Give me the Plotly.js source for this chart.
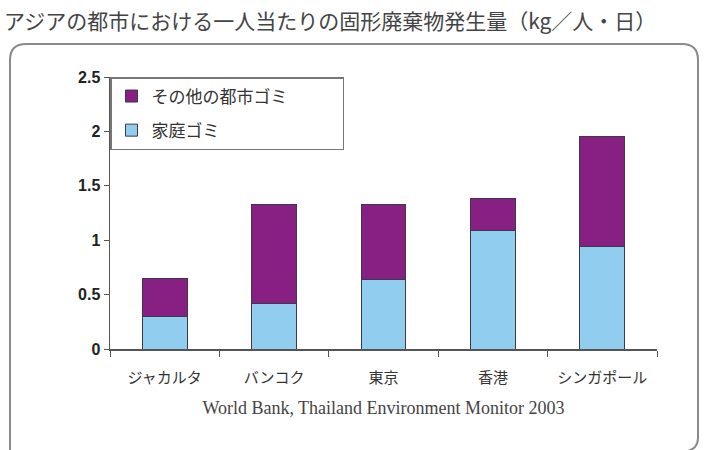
<!DOCTYPE html>
<html>
<head>
<meta charset="utf-8">
<script src="https://cdn.plot.ly/plotly-3.0.1.min.js"></script>
<style>html,body{margin:0;padding:0;background:#fff;}#chart{width:717px;height:450px;}</style>
</head>
<body>
<div id="chart"></div>
<script>
const cities = ["ジャカルタ", "バンコク", "東京", "香港", "シンガポール"];
const household = [0.30, 0.42, 0.64, 1.09, 0.94];
const otherUrban = [0.35, 0.91, 0.69, 0.29, 1.01];
const seriesNames = ["家庭ゴミ", "その他の都市ゴミ"];
const yTicks = [0, 0.5, 1, 1.5, 2, 2.5];
const yTickText = ["0", "0.5", "1", "1.5", "2", "2.5"];

// plot-area pixel geometry
const L = 110, R = 657, T = 77, B = 349, W = 717, H = 450;
const px = x => (x - L) / (R - L);
const py = y => (B - y) / (B - T);

// rounded frame path (paper coords)
const fx0 = 10, fx1 = 698, fy0 = 44, fy1 = 448, rad = 16;
const framePath = [
  `M ${px(fx0)},${py(452)}`,
  `L ${px(fx0)},${py(fy0 + rad)}`,
  `Q ${px(fx0)},${py(fy0)} ${px(fx0 + rad)},${py(fy0)}`,
  `L ${px(fx1 - rad)},${py(fy0)}`,
  `Q ${px(fx1)},${py(fy0)} ${px(fx1)},${py(fy0 + rad)}`,
  `L ${px(fx1)},${py(fy1 - 10)}`,
  `Q ${px(fx1)},${py(fy1)} ${px(fx1 - 10)},${py(fy1 + 3)}`
].join(" ");

const pad = "\u00a0".repeat(13);

const data = [
  {
    type: "bar", x: cities, y: household, name: seriesNames[0] + pad + "\u00a0".repeat(8),
    legendrank: 2, legendgroup: "g2",
    marker: {color: "#90cdee", line: {color: "#3a3a4a", width: 1}}
  },
  {
    type: "bar", x: cities, y: otherUrban, name: seriesNames[1] + pad,
    legendrank: 1, legendgroup: "g1",
    marker: {color: "#881f83", line: {color: "#3a3a4a", width: 1}}
  }
];

const layout = {
  width: W, height: H,
  margin: {l: L, r: W - R, t: T, b: H - B},
  paper_bgcolor: "#fff", plot_bgcolor: "#fff",
  barmode: "stack", bargap: 0.59,
  showlegend: true,
  title: {
    text: "アジアの都市における一人当たりの固形廃棄物発生量（kg／人・日）",
    x: 4 / W, xref: "container", xanchor: "left", y: 1 - 22 / H, yref: "container", yanchor: "middle",
    font: {family: "Noto Sans CJK JP", size: 21, color: "#444"}
  },
  xaxis: {
    type: "category", tickson: "boundaries", ticks: "outside", ticklen: 6, tickcolor: "#555",
    showline: true, linecolor: "#555", linewidth: 1.5, showgrid: false, zeroline: false,
    ticklabelstandoff: 14,
    tickfont: {family: "Noto Sans CJK JP", size: 15, color: "#333"},
    title: {text: "World Bank, Thailand Environment Monitor 2003", standoff: 16,
            font: {family: "Liberation Serif", size: 18, color: "#444"}}
  },
  yaxis: {
    range: [0, 2.5], tickvals: yTicks, ticktext: yTickText, ticks: "outside", ticklen: 5, tickcolor: "#555",
    showline: true, linecolor: "#555", linewidth: 1.5, showgrid: false, zeroline: false,
    tickfont: {family: "Liberation Sans", size: 16, color: "#222", weight: "bold"}
  },
  legend: {
    x: 0, y: 1, xanchor: "left", yanchor: "top",
    traceorder: "grouped", tracegroupgap: 9,
    bgcolor: "#fff", bordercolor: "#777", borderwidth: 1.5,
    font: {family: "Noto Sans CJK JP", size: 17, color: "#333"},
    itemwidth: 30
  },
  shapes: [
    {type: "path", xref: "paper", yref: "paper", path: framePath,
     line: {color: "#8a8a8a", width: 2}, layer: "below"}
  ]
};

Plotly.newPlot("chart", data, layout, {displayModeBar: false, staticPlot: true});
</script>
</body>
</html>
